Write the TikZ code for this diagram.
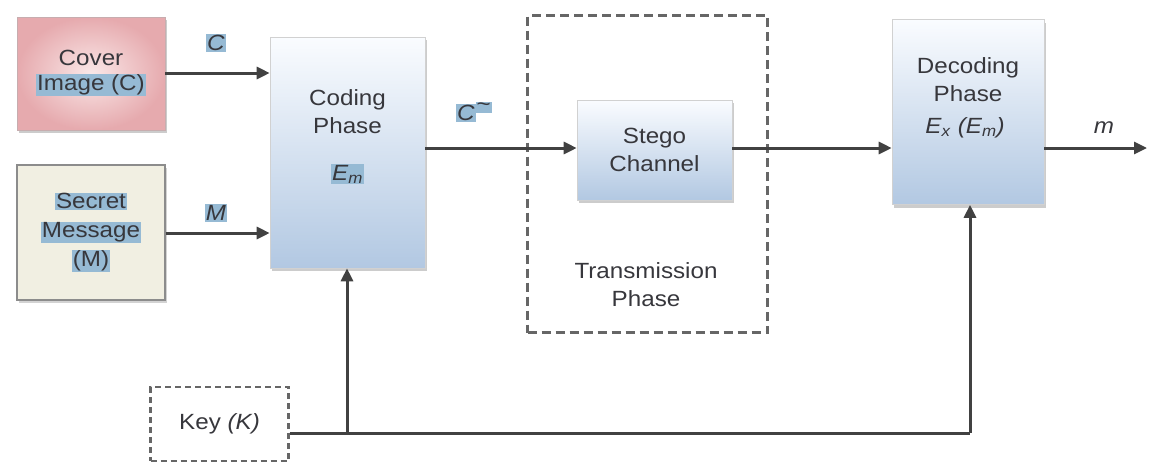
\documentclass[tikz,border=0pt]{standalone}
\usepackage{fontspec}
\setmainfont{Liberation Sans}[FakeStretch=1.1]
\usetikzlibrary{arrows.meta,shadows}
\definecolor{ink}{RGB}{55,55,60}
\definecolor{wire}{RGB}{65,65,65}
\definecolor{hlblue}{RGB}{150,186,212}
\definecolor{bluetop}{RGB}{250,252,255}
\definecolor{bluebot}{RGB}{178,200,226}
\definecolor{pinkout}{RGB}{230,170,174}
\definecolor{pinkin}{RGB}{250,232,232}
\definecolor{beige}{RGB}{241,239,226}
\newcommand{\hlt}[1]{{\setlength{\fboxsep}{1pt}\colorbox{hlblue}{#1}}}
\tikzset{
  txt/.style={font=\fontsize{22}{28}\selectfont, text=ink, align=center},
  shade box/.style={txt, draw=black!18, line width=0.6pt,
    top color=bluetop, bottom color=bluebot,
    drop shadow={shadow xshift=1.5pt, shadow yshift=-3pt, opacity=0.4}},
  wireline/.style={draw=wire, line width=3pt},
  flow/.style={wireline, -{Triangle[length=13pt,width=12pt]}},
  dashbox/.style={draw=black!60, line width=2.6pt, dash pattern=on 9pt off 5pt},
}
\begin{document}
\begin{tikzpicture}[x=1pt,y=-1pt]
\useasboundingbox (0,0) rectangle (1150,467);

% source boxes
\node[txt, minimum width=148pt, minimum height=113pt, draw=pinkout!70!black!60,
      line width=0.8pt, inner color=pinkin, outer color=pinkout,
      drop shadow={shadow xshift=1.5pt, shadow yshift=-3pt, opacity=0.4}]
  (cover) at (91,73.5) {Cover\\[-3pt]\hlt{Image (C)}};
\node[txt, minimum width=148pt, minimum height=135pt, draw=black!45,
      line width=1.4pt, fill=beige, font=\fontsize{22}{32}\selectfont,
      drop shadow={shadow xshift=1.5pt, shadow yshift=-2.5pt, opacity=0.35}]
  (secret) at (91,232.5) {\hlt{Secret}\\[-3pt]\hlt{Message}\\[-3pt]\hlt{(M)}};

% coding phase
\node[shade box, minimum width=155pt, minimum height=231pt] (coding) at (347.5,152.5) {};
\node[txt] (codingtxt) at (347.5,112) {Coding\\Phase};
\node[txt] (em) at (347.5,174) {\hlt{\textit{E}\textsubscript{\textit{m}}}};

% transmission phase
\node[dashbox, minimum width=240pt, minimum height=317pt] (trans) at (647.5,174) {};
\node[shade box, minimum width=155pt, minimum height=100pt] (stego) at (654.5,150)
  {Stego\\Channel};
\node[txt] (transtxt) at (646,285) {Transmission\\Phase};

% decoding phase
\node[shade box, minimum width=152pt, minimum height=185pt] (decoding) at (968,112) {};
\node[txt] (dectxt) at (968,80) {Decoding\\Phase};
\node[txt] (extxt) at (965,128) {\textit{E}\textsubscript{\textit{x}} \textit{(E\textsubscript{m})}};

% key
\node[txt, dashbox, line width=2.4pt, dash pattern=on 6pt off 4pt,
      minimum width=138pt, minimum height=74pt] (key) at (219.5,424) {Key \textit{(K)}};

% output end and key wiring points
\coordinate (out) at (1147,148);
\coordinate (j1) at (347,433);
\coordinate (j2) at (970,433);

% data flow
\draw[flow] (cover.east |- 0,73) -- (coding.west |- 0,73);
\draw[flow] (secret.east |- 0,233) -- (coding.west |- 0,233);
\draw[flow] (coding.east |- 0,148) -- (stego.west |- 0,148);
\draw[flow] (stego.east |- 0,148) -- (decoding.west |- 0,148);
\draw[flow] (decoding.east |- 0,148) -- (out);

% key distribution
\draw[wireline] (key.east |- j1) -- (j2);
\draw[flow] (j1) -- (coding.south -| j1);
\draw[flow] (j2) -- (decoding.south -| j2);

% flow labels
\node[txt] (lc) at (216,43) {\hlt{\textit{C}}};
\node[txt] (lm) at (216,213) {\hlt{\textit{M}}};
\node[txt] (lct) at (474,112) {\hlt{\textit{C}}\raisebox{9pt}{\hlt{\textasciitilde}}};
\node[txt] (lmm) at (1104,128) {\textit{m}};
\end{tikzpicture}
\end{document}
